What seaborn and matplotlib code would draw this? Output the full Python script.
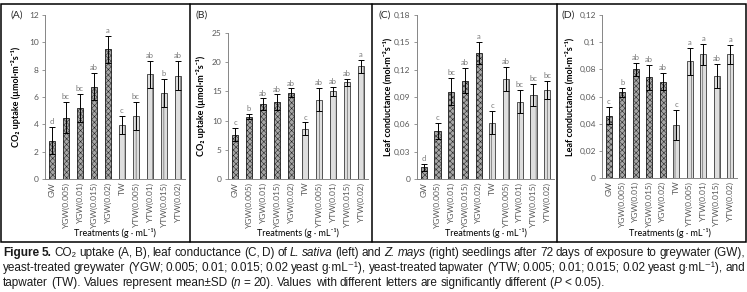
import re
import matplotlib
matplotlib.use("Agg")
import numpy as np
import seaborn as sns
import matplotlib.pyplot as plt
from matplotlib import font_manager
from matplotlib.patches import Rectangle
from matplotlib.lines import Line2D
from matplotlib.ticker import FuncFormatter

treatments = ["GW", "YGW(0.005)", "YGW(0.01)", "YGW(0.015)", "YGW(0.02)",
              "TW", "YTW(0.005)", "YTW(0.01)", "YTW(0.015)", "YTW(0.02)"]
water = ["GW"] * 5 + ["TW"] * 5

# (A) CO2 uptake, L. sativa
co2_sativa = [2.8, 4.5, 5.2, 6.75, 9.5, 3.95, 4.6, 7.65, 6.3, 7.55]
co2_sativa_sd = [1.0, 1.1, 1.0, 1.0, 1.0, 0.65, 1.0, 1.0, 1.05, 1.05]
co2_sativa_letters = ["d", "bc", "bc", "ab", "a", "c", "bc", "ab", "b", "ab"]

# (B) CO2 uptake, Z. mays
co2_mays = [7.6, 10.7, 12.8, 13.2, 14.8, 8.6, 13.6, 15.0, 16.6, 19.3]
co2_mays_sd = [1.1, 0.4, 1.0, 1.3, 0.7, 1.1, 2.0, 0.8, 0.6, 1.1]
co2_mays_letters = ["c", "b", "ab", "ab", "ab", "c", "ab", "ab", "ab", "a"]

# (C) leaf conductance, L. sativa
cond_sativa = [0.013, 0.053, 0.096, 0.108, 0.138, 0.062, 0.110, 0.085, 0.092, 0.098]
cond_sativa_sd = [0.004, 0.009, 0.015, 0.014, 0.012, 0.013, 0.013, 0.013, 0.012, 0.010]
cond_sativa_letters = ["d", "c", "bc", "ab", "a", "c", "ab", "bc", "bc", "bc"]

# (D) leaf conductance, Z. mays
cond_mays = [0.046, 0.063, 0.080, 0.074, 0.071, 0.039, 0.086, 0.091, 0.075, 0.091]
cond_mays_sd = [0.006, 0.003, 0.005, 0.009, 0.006, 0.011, 0.010, 0.008, 0.009, 0.007]
cond_mays_letters = ["c", "b", "ab", "ab", "ab", "c", "a", "a", "ab", "a"]

W, H = 747, 292
installed = {f.name for f in font_manager.fontManager.ttflist}
chart_font = ["Lato", "DejaVu Sans"] if "Lato" in installed else ["DejaVu Sans"]
cap_font = ["Liberation Sans", "DejaVu Sans"]

sns.set_style("white")
plt.rcParams["font.family"] = chart_font
plt.rcParams["hatch.linewidth"] = 0.35


def fx(px):
    return px / W


def fy(py):
    return 1 - py / H


fig = plt.figure(figsize=(W / 100, H / 100), dpi=100)

panels = [
    dict(tag="(A)", vals=co2_sativa, sd=co2_sativa_sd, let=co2_sativa_letters,
         box=(45, 185, 15, 179), ylim=12, step=2, comma=False, ylab_x=17, tag_x=17,
         ylabel="CO₂ uptake (µmol·m⁻²s⁻¹)"),
    dict(tag="(B)", vals=co2_mays, sd=co2_mays_sd, let=co2_mays_letters,
         box=(228, 368, 33, 179), ylim=25, step=5, comma=False, ylab_x=202, tag_x=202,
         ylabel="CO₂ uptake (µmol·m⁻²s⁻¹)"),
    dict(tag="(C)", vals=cond_sativa, sd=cond_sativa_sd, let=cond_sativa_letters,
         box=(417, 554, 15, 179), ylim=0.18, step=0.03, comma=True, ylab_x=388, tag_x=385,
         ylabel="Leaf conductance (mol·m⁻²s⁻¹)"),
    dict(tag="(D)", vals=cond_mays, sd=cond_mays_sd, let=cond_mays_letters,
         box=(602, 737, 15, 178), ylim=0.12, step=0.02, comma=True, ylab_x=570, tag_x=568,
         ylabel="Leaf conductance (mol·m⁻²s⁻¹)"),
]

grey = "#868686"
txt_grey = "#595959"
styles = {"GW": dict(fc="#a6a6a6", ec="#1a1a1a", hatch="xxxxxx"),
          "TW": dict(fc="#dedede", ec="#3a3a3a", hatch="|||")}

for p in panels:
    l, r, t, b = p["box"]
    ax = fig.add_axes([fx(l), fy(b), fx(r - l), (b - t) / H])
    sns.barplot(x=treatments, y=p["vals"], hue=water, dodge=False, width=0.45,
                errorbar=None, legend=False, ax=ax)
    for bar in ax.patches:
        i = int(round(bar.get_x() + bar.get_width() / 2))
        st = styles[water[i]]
        bar.set_facecolor(st["fc"])
        bar.set_edgecolor(st["ec"])
        bar.set_hatch(st["hatch"])
        bar.set_linewidth(0.6)
    x = np.arange(len(treatments))
    ax.errorbar(x, p["vals"], yerr=p["sd"], fmt="none", ecolor="black",
                elinewidth=0.7, capsize=2.2, capthick=0.7)
    for i, (v, s, lt) in enumerate(zip(p["vals"], p["sd"], p["let"])):
        ax.text(i, v + s + p["ylim"] * 0.012, lt, ha="center", va="bottom",
                fontsize=5.5, color="#7a7a7a")
    ax.set_xlim(-0.5, 9.5)
    ax.set_ylim(0, p["ylim"])
    ticks = np.round(np.arange(0, p["ylim"] + p["step"] / 2, p["step"]), 4)
    ax.set_yticks(ticks)
    if p["comma"]:
        ax.yaxis.set_major_formatter(FuncFormatter(lambda v, _: f"{v:g}".replace(".", ",")))
    else:
        ax.yaxis.set_major_formatter(FuncFormatter(lambda v, _: f"{v:g}"))
    ax.set_xticks(x)
    ax.set_xticklabels(treatments, rotation=90, fontsize=6, color=txt_grey)
    ax.set_xticks(np.arange(-0.5, 10, 1), minor=True)
    ax.tick_params(axis="x", which="major", length=0, pad=2)
    ax.tick_params(axis="x", which="minor", length=2.5, width=0.6, color=grey, direction="out")
    ax.tick_params(axis="y", length=2.5, width=0.6, color=grey, direction="out",
                   labelsize=6, labelcolor=txt_grey, pad=2, left=True)
    sns.despine(ax=ax)
    for sp in ("left", "bottom"):
        ax.spines[sp].set_color(grey)
        ax.spines[sp].set_linewidth(0.7)
    ax.set_xlabel("")
    ax.set_ylabel(p["ylabel"], fontsize=6.5, fontweight="bold", color="black")
    ax.yaxis.set_label_coords((p["ylab_x"] + 4 - l) / (r - l), 0.5)
    fig.text(fx(p["tag_x"]), fy(15), p["tag"], ha="center", va="center",
             fontsize=7.5, color="#262626")
    fig.text(fx((l + r) / 2), fy(233), "Treatments (g · mL⁻¹)", ha="center",
             va="center", fontsize=6.5, color="black")

# panel boxes
box_bottom = 242
fig.add_artist(Rectangle((fx(1), fy(box_bottom)), fx(745), (box_bottom - 4) / H,
                         transform=fig.transFigure, fill=False, ec="black", lw=1.1))
for xd in (190, 372, 557):
    fig.add_artist(Line2D([fx(xd), fx(xd)], [fy(4), fy(box_bottom)], transform=fig.transFigure,
                          color="black", lw=1.1))

# caption
caption = [
    ("{b:Figure} {b:5.} CO₂ uptake (A, B), leaf conductance (C, D) of {i:L.} {i:sativa} (left) and "
     "{i:Z.} {i:mays} (right) seedlings after 72 days of exposure to greywater (GW),", True),
    ("yeast-treated greywater (YGW; 0.005; 0.01; 0.015; 0.02 yeast g·mL⁻¹), yeast-treated tapwater "
     "(YTW; 0.005; 0.01; 0.015; 0.02 yeast g·mL⁻¹), and", True),
    ("tapwater (TW). Values represent mean±SD ({i:n} = 20). Values with different letters are "
     "significantly different ({i:P} < 0.05).", False),
]
cap_size = 8.5
renderer = fig.canvas.get_renderer()


def word_pieces(word):
    out = []
    for st, styled, plain in re.findall(r"\{([bi]):([^}]*)\}|([^{]+)", word):
        out.append((styled, st) if st else (plain, "n"))
    return out


def make_text(x, y, s, st):
    return fig.text(x, y, s, fontsize=cap_size, family=cap_font, ha="left", va="baseline",
                    fontweight="bold" if st == "b" else "normal",
                    fontstyle="italic" if st == "i" else "normal", color="#1a1a1a")


x_left, x_right = 3, 745
for k, (line, justify) in enumerate(caption):
    y = fy(256 + 15 * k)
    words = [word_pieces(w) for w in line.split(" ")]
    widths = []
    for w in words:
        tot = 0
        for s, st in w:
            t = make_text(0, 0, s, st)
            tot += t.get_window_extent(renderer).width
            t.remove()
        widths.append(tot)
    space = cap_size * 100 / 72 * 0.27
    if justify:
        space = max((x_right - x_left - sum(widths)) / (len(words) - 1), 1.5)
    xpos = x_left
    for w, wd in zip(words, widths):
        xx = xpos
        for s, st in w:
            t = make_text(fx(xx), y, s, st)
            xx += t.get_window_extent(renderer).width
        xpos += wd + space

fig.savefig("out.png", dpi=100)
